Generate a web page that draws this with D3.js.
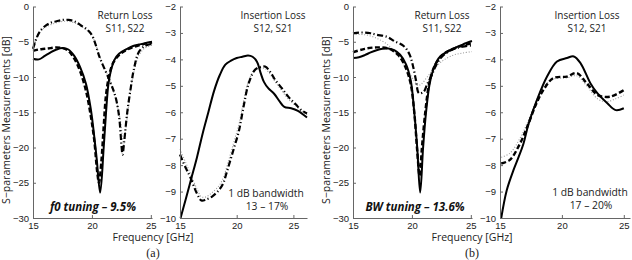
<!DOCTYPE html>
<html>
<head>
<meta charset="utf-8">
<script src="https://cdn.jsdelivr.net/npm/d3@7"></script>
<style>
  body { margin: 0; background: #fff; }
  svg { display: block; font-family: "Open Sans", sans-serif; }
  .tick text { fill: #222; font-size: 9.5px; }
  .domain, .tick line { stroke: #666; }
</style>
</head>
<body>
<svg id="drawing_region" width="632" height="260"></svg>
<script>
// tick values
const xTicks  = [15, 20, 25];
const rlTicks = [0, -5, -10, -15, -20, -25, -30];
const ilTicks = [-2, -3, -4, -5, -6, -7, -8, -9, -10];

// (a) return loss, [GHz, dB]
const rlA_solid = [[15,-7.4],[15.5,-7.5],[16,-7.0],[16.5,-6.5],[17,-6.1],[17.5,-5.9],[18,-6.1],[18.5,-7.0],[19,-8.6],[19.5,-11.0],[19.9,-14.5],[20.1,-17],[20.4,-21.5],[20.7,-26.4],[21.0,-20],[21.2,-15],[21.4,-11],[21.6,-9.2],[21.9,-7.6],[22.3,-6.7],[23,-6.0],[23.5,-5.6],[24,-5.4],[24.5,-5.2],[25.1,-5.0]];
const rlA_dashed = [[15,-6.3],[15.5,-6.1],[16,-6.0],[16.5,-5.9],[17,-5.8],[17.5,-5.9],[18,-6.3],[18.5,-7.4],[19,-9.2],[19.5,-12],[19.9,-15.5],[20.2,-19],[20.45,-23.5],[20.6,-25],[20.8,-22],[21.0,-17],[21.2,-12.5],[21.5,-9.5],[21.8,-8],[22.3,-6.9],[23,-6.1],[24,-5.5],[25.1,-5.1]];
const rlA_dashdot = [[15,-6.0],[15.3,-4.5],[15.6,-3.5],[16,-2.8],[16.5,-2.3],[17,-2.1],[17.5,-1.9],[18,-1.9],[18.5,-2.1],[19,-2.6],[19.9,-3.8],[20.7,-7.4],[21.6,-10.9],[22.0,-12.8],[22.3,-15.5],[22.5,-19.5],[22.6,-21],[22.75,-19],[23.0,-15],[23.3,-11.5],[23.55,-9],[24,-6.4],[24.5,-5.6],[25.1,-5.3]];
const rlA_dotted = [[15,-5.5],[15.5,-3.8],[16,-3.0],[17,-2.3],[18,-2.1],[19,-2.7],[20,-4.2],[20.7,-7.2],[21.5,-10.5],[22,-13],[22.4,-16],[22.7,-19.5],[22.9,-17],[23.2,-13],[23.5,-9.8],[24,-6.9],[24.5,-5.9],[25.1,-5.5]];

// (a) insertion loss
const ilA_solid = [[15.05,-10.0],[15.5,-9.3],[16,-8.5],[16.5,-7.7],[17,-6.8],[17.5,-6.0],[18,-5.2],[18.5,-4.6],[19,-4.2],[19.5,-4.05],[20,-3.95],[20.5,-3.9],[21,-3.85],[21.4,-3.9],[21.8,-4.1],[22.1,-4.5],[22.4,-4.85],[22.8,-5.1],[23.3,-5.3],[23.8,-5.6],[24.2,-5.8],[24.8,-5.85],[25.4,-5.95],[26.2,-6.2]];
const ilA_dashdot = [[15,-7.6],[15.5,-8.1],[15.9,-8.45],[16.5,-9.08],[16.9,-9.34],[17.3,-9.3],[17.8,-9.2],[18.4,-8.96],[18.8,-8.7],[19.1,-8.3],[19.7,-7.44],[20.2,-6.7],[20.6,-5.8],[21.06,-4.9],[21.6,-4.4],[22.0,-4.3],[22.5,-4.27],[23.0,-4.5],[23.4,-4.78],[24,-5.1],[24.55,-5.41],[25.2,-5.7],[25.7,-5.92],[26.2,-6.05]];
const ilA_dotted = [[15,-7.4],[15.5,-7.9],[15.9,-8.3],[16.5,-8.9],[16.9,-9.2],[17.3,-9.2],[17.8,-9.05],[18.4,-8.8],[18.8,-8.5],[19.1,-8.1],[19.7,-7.2],[20.2,-6.45],[20.6,-5.6],[21.06,-4.8],[21.6,-4.4],[22.0,-4.35],[22.5,-4.35],[23.0,-4.6],[23.4,-4.85],[24,-5.2],[24.55,-5.5],[25.2,-5.75],[25.7,-5.95],[26.2,-6.1]];

// (b) return loss
const rlB_solid = [[15,-7.3],[15.5,-7.2],[16,-6.9],[16.5,-6.5],[17,-6.2],[17.5,-6.0],[18,-5.95],[18.5,-6.2],[19,-6.85],[19.5,-8.2],[19.9,-10.5],[20.2,-15],[20.45,-20],[20.7,-26.4],[20.95,-20],[21.2,-15],[21.5,-11],[21.8,-9.0],[22.1,-7.8],[22.4,-7.1],[23,-6.4],[23.6,-5.9],[24.3,-5.4],[25.1,-4.9]];
const rlB_dashed = [[15,-6.5],[16,-6.0],[17,-5.8],[17.9,-5.9],[18.5,-6.4],[19,-7.2],[19.5,-8.8],[19.9,-11],[20.2,-15],[20.45,-20.5],[20.65,-24],[20.85,-20],[21.1,-15.5],[21.4,-11.5],[21.7,-9.4],[22,-8.2],[22.5,-7.0],[23,-6.4],[24,-5.7],[25.1,-5.2]];
const rlB_dashdot = [[15,-3.8],[15.5,-3.7],[16,-3.7],[16.5,-3.8],[17,-4.0],[17.9,-4.3],[18.5,-4.9],[19.3,-5.6],[19.8,-6.8],[20.1,-8.5],[20.35,-10.5],[20.6,-12.3],[21.0,-12.1],[21.3,-11.0],[21.7,-9.7],[22.0,-8.5],[22.5,-7.2],[23.0,-6.5],[23.6,-6.0],[24.3,-5.7],[25.1,-5.5]];
const rlB_dotted = [[15,-4.0],[16,-4.0],[17,-4.5],[18,-5.5],[18.8,-7.0],[19.5,-8.6],[20.1,-10.3],[20.5,-11.2],[20.8,-11.0],[21.3,-10.0],[22,-8.6],[22.7,-7.6],[23.5,-6.9],[24.3,-6.6],[25.1,-6.4]];

// (b) insertion loss
const ilB_solid = [[15.1,-10.0],[15.54,-8.96],[16.08,-8.2],[16.5,-7.7],[16.9,-7.18],[17.3,-6.45],[17.98,-5.54],[18.8,-4.65],[19.6,-4.08],[20.4,-3.95],[20.96,-3.89],[21.5,-4.14],[22.3,-4.9],[22.86,-5.28],[23.67,-5.66],[24.35,-5.92],[25.0,-5.85]];
const ilB_dashed = [[15.1,-7.94],[15.8,-7.8],[16.6,-7.2],[17.2,-6.55],[18.0,-5.6],[18.5,-5.16],[19.3,-4.71],[20.4,-4.65],[21.2,-4.52],[22.0,-4.9],[22.9,-5.35],[23.9,-5.41],[25.0,-5.16]];
const ilB_dotted = [[15.1,-7.7],[15.8,-7.55],[16.6,-7.0],[17.2,-6.4],[18,-5.5],[18.6,-5.0],[19.3,-4.75],[20.4,-4.7],[21.2,-4.62],[22,-5.0],[22.9,-5.5],[23.6,-5.6],[24.3,-5.5],[25.0,-5.35]];

const styles = {
  solid:   {w: 2.0, dash: null,              c: "#000"},
  dashed:  {w: 2.4, dash: "5,2.5",           c: "#000"},
  dashdot: {w: 2.2, dash: "6,2.5,1.2,2.5",   c: "#000"},
  dotted:  {w: 1.1, dash: "1,1.8",           c: "#999"}
};

const panels = [
  {x0: 33,  x1: 152, xmax: 25.1, ydom: [-30, 0],  yticks: rlTicks,
   curves: [["dotted", rlA_dotted], ["dashdot", rlA_dashdot], ["dashed", rlA_dashed], ["solid", rlA_solid]],
   title: ["Return Loss", "S11, S22"], tx: 125},
  {x0: 180, x1: 307, xmax: 26.2, ydom: [-10, -2], yticks: ilTicks,
   curves: [["dotted", ilA_dotted], ["dashdot", ilA_dashdot], ["solid", ilA_solid]],
   title: ["Insertion Loss", "S12, S21"], tx: 273},
  {x0: 353, x1: 472, xmax: 25.1, ydom: [-30, 0],  yticks: rlTicks,
   curves: [["dotted", rlB_dotted], ["dashdot", rlB_dashdot], ["dashed", rlB_dashed], ["solid", rlB_solid]],
   title: ["Return Loss", "S11, S22"], tx: 442},
  {x0: 500, x1: 630, xmax: 25.5, ydom: [-10, -2], yticks: ilTicks,
   curves: [["dotted", ilB_dotted], ["dashed", ilB_dashed], ["solid", ilB_solid]],
   title: ["Insertion Loss", "S12, S21"], tx: 587}
];

const yTop = 6.5, yBot = 218;
const svg = d3.select("#drawing_region");

panels.forEach(p => {
  const x = d3.scaleLinear().domain([15, p.xmax]).range([p.x0, p.x1]);
  const y = d3.scaleLinear().domain(p.ydom).range([yBot, yTop]);
  const g = svg.append("g");

  const line = d3.line()
      .x(d => x(d[0]))
      .y(d => y(d[1]))
      .curve(d3.curveCatmullRom.alpha(0.5));

  p.curves.forEach(([s, data]) => {
    const st = styles[s];
    g.append("path")
      .attr("d", line(data))
      .attr("fill", "none")
      .attr("stroke", st.c)
      .attr("stroke-width", st.w)
      .attr("stroke-dasharray", st.dash)
      .attr("stroke-linejoin", "round");
  });

  // axes, ticks pointing inward
  g.append("g")
      .attr("transform", `translate(0,${yBot})`)
      .call(d3.axisBottom(x).tickValues(xTicks).tickSize(-3).tickSizeOuter(0).tickPadding(4).tickFormat(d3.format("d")));
  g.append("g")
      .attr("transform", `translate(${p.x0},0)`)
      .call(d3.axisLeft(y).tickValues(p.yticks).tickSize(-3).tickSizeOuter(0).tickPadding(4).tickFormat(d => d3.format("d")(d).replace("-", "\u2212")));
  g.selectAll(".domain").attr("stroke", "#666");

  g.append("text").attr("x", p.tx).attr("y", 19).attr("text-anchor", "middle")
      .attr("font-size", 10).attr("fill", "#222").text(p.title[0]);
  g.append("text").attr("x", p.tx).attr("y", 32).attr("text-anchor", "middle")
      .attr("font-size", 10).attr("fill", "#222").text(p.title[1]);
});

// annotations
const ann = [
  {x: 93,  y: 211, t: "f0 tuning \u2013 9.5%", bold: true},
  {x: 415, y: 211, t: "BW tuning \u2013 13.6%", bold: true},
  {x: 266, y: 197, t: "1 dB bandwidth"},
  {x: 267, y: 210, t: "13 \u2013 17%"},
  {x: 590, y: 196, t: "1 dB bandwidth"},
  {x: 591, y: 209, t: "17 \u2013 20%"}
];
ann.forEach(a => {
  svg.append("text").attr("x", a.x).attr("y", a.y).attr("text-anchor", "middle")
    .attr("font-size", a.bold ? 11.5 : 10.3)
    .attr("font-weight", a.bold ? "bold" : "normal")
    .attr("font-style", a.bold ? "italic" : "normal")
    .attr("fill", a.bold ? "#111" : "#222")
    .text(a.t);
});

// axis titles and sub-figure labels
[{yl: 10, fx: 153, lab: "(a)"}, {yl: 330, fx: 472, lab: "(b)"}].forEach(s => {
  svg.append("text")
    .attr("transform", `translate(${s.yl},120) rotate(-90)`)
    .attr("text-anchor", "middle").attr("font-size", 10.5).attr("fill", "#222")
    .text("S\u2212parameters Measurements [dB]");
  svg.append("text").attr("x", s.fx).attr("y", 241).attr("text-anchor", "middle")
    .attr("font-size", 10.5).attr("fill", "#222").text("Frequency [GHz]");
  svg.append("text").attr("x", s.fx).attr("y", 257).attr("text-anchor", "middle")
    .attr("font-family", "Liberation Serif, serif").attr("font-size", 12).attr("fill", "#222").text(s.lab);
});
</script>
</body>
</html>
